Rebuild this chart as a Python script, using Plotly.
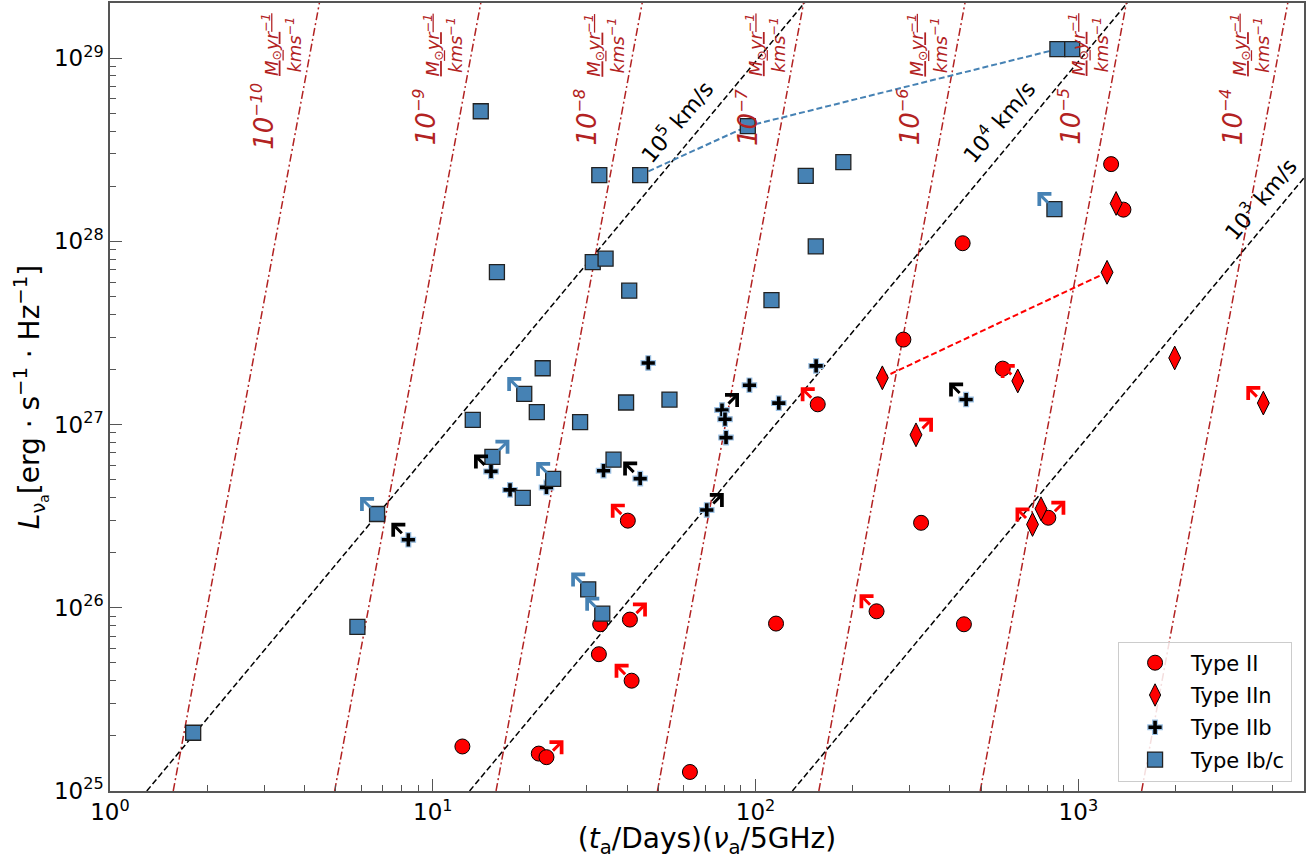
import numpy as np
import plotly.graph_objects as go

# ---------------- data ----------------
# Type II (circles)
ii_x = [155.8, 40.2, 1263, 1379, 438, 287, 583, 325.6, 807, 40.8, 33.0, 32.7, 41.3,
        12.35, 21.3, 22.5, 62.6, 115.7, 237, 442]
ii_y = [1.29e27, 2.99e26, 2.64e28, 1.49e28, 9.77e27, 2.91e27, 2.02e27, 2.91e26, 3.10e26,
        8.62e25, 8.13e25, 5.58e25, 4.0e25, 1.75e25, 1.60e25, 1.53e25, 1.27e25, 8.20e25,
        9.57e25, 8.13e25]
ii_lim = [-1, -1, 0, 0, 0, 0, 0, 0, 1, 1, 0, 0, -1, 0, 0, 1, 0, 0, -1, 0]

# Type IIn (diamonds)
iin_x = [1309, 1227, 247, 649, 1988, 3741, 314, 766, 721]
iin_y = [1.61e28, 6.78e27, 1.80e27, 1.73e27, 2.31e27, 1.31e27, 8.79e26, 3.47e26, 2.85e26]
iin_lim = [0, 0, 0, -1, 0, -1, 1, 0, -1]

# Type IIb (plus)
iib_x = [8.40, 46.5, 95.7, 154, 118, 78.7, 80.4, 81.0, 15.15, 17.35, 22.5, 33.8, 43.9, 70.6, 449]
iib_y = [2.35e26, 2.17e27, 1.64e27, 2.09e27, 1.31e27, 1.20e27, 1.07e27, 8.49e26, 5.55e26,
         4.40e26, 4.54e26, 5.60e26, 5.07e26, 3.42e26, 1.37e27]
iib_lim = [-1, 0, 0, 0, 0, 1, 0, 0, -1, 0, 0, 0, -1, 1, -1]

# Type Ib/c (squares)
ibc_x = [1.81, 5.84, 6.72, 14.08, 15.8, 31.3, 34.3, 32.8, 43.9, 94.6, 143, 187, 153.6, 112,
         40.6, 861, 957, 843, 21.9, 19.2, 21.0, 13.3, 28.6, 39.7, 54.1, 15.3, 36.3, 23.6,
         19.0, 30.3, 33.5]
ibc_y = [2.08e25, 7.86e25, 3.25e26, 5.13e28, 6.80e27, 7.71e27, 8.04e27, 2.30e28, 2.30e28,
         4.26e28, 2.28e28, 2.71e28, 9.38e27, 4.78e27, 5.38e27, 1.12e29, 1.12e29, 1.50e28,
         2.03e27, 1.47e27, 1.17e27, 1.06e27, 1.03e27, 1.32e27, 1.37e27, 6.67e26, 6.43e26,
         5.05e26, 3.98e26, 1.26e26, 9.29e25]
ibc_lim = [0, 0, -1, 0, 0, 0, 0, 0, 0, 0, 0, 0, 0, 0, 0, 0, 0, -1, 0, -1, 0, 0, 0, 0, 0,
           1, 0, -1, 0, -1, -1]

# connected tracks
ibc_track_x = [43.9, 94.6, 861]
ibc_track_y = [2.30e28, 4.26e28, 1.12e29]
iin_track_x = [247, 1227]
iin_track_y = [1.80e27, 6.78e27]

# model lines
vel_list = [1e5, 1e4, 1e3]            # km/s
vel_labels = ["10<sup>5</sup> km/s", "10<sup>4</sup> km/s", "10<sup>3</sup> km/s"]
vel_label_pos = [(56.7, 4.11e28), (564, 4.11e28), (3656, 1.55e28)]
x_v5 = 1.30        # x where v=1e5 km/s reaches L=1e25
mdot_list = [1e-10, 1e-9, 1e-8, 1e-7, 1e-6, 1e-5, 1e-4]
mdot_exp = [-10, -9, -8, -7, -6, -5, -4]
x_m10 = 1.57       # x where Mdot=1e-10 reaches L=1e25

x_ticks = [1, 10, 100, 1000]
x_ticktext = ["10<sup>0</sup>", "10<sup>1</sup>", "10<sup>2</sup>", "10<sup>3</sup>"]
y_ticks = [1e25, 1e26, 1e27, 1e28, 1e29]
y_ticktext = ["10<sup>25</sup>", "10<sup>26</sup>", "10<sup>27</sup>", "10<sup>28</sup>", "10<sup>29</sup>"]

XMAX = 5000
YMAX = 2e29

RED = "#ff0000"
BLUE = "#4682b4"
FIRE = "#b22222"
FONT = "DejaVu Sans"

fig = go.Figure()

# mass-loss lines
for m in mdot_list:
    xm = x_m10 * np.sqrt(m / 1e-10)
    xs = np.logspace(np.log10(xm), np.log10(xm * 3.5), 50)
    ls = 1e25 * (xs / xm) ** 9.5
    fig.add_trace(go.Scatter(x=xs, y=ls, mode="lines", showlegend=False, hoverinfo="skip",
                             line=dict(color=FIRE, width=1.5, dash="8px,3px,2px,3px")))

# velocity lines
for v in vel_list:
    xv = x_v5 * 1e5 / v
    xs = np.logspace(np.log10(xv), np.log10(XMAX * 1.1), 100)
    ls = 1e25 * (xs / xv) ** (19 / 9)
    fig.add_trace(go.Scatter(x=xs, y=ls, mode="lines", showlegend=False, hoverinfo="skip",
                             line=dict(color="black", width=1.5, dash="6px,3px")))

# tracks
fig.add_trace(go.Scatter(x=ibc_track_x, y=ibc_track_y, mode="lines", showlegend=False,
                         line=dict(color=BLUE, width=2, dash="6px,3px")))
fig.add_trace(go.Scatter(x=iin_track_x, y=iin_track_y, mode="lines", showlegend=False,
                         line=dict(color=RED, width=2, dash="6px,3px")))

# markers
fig.add_trace(go.Scatter(x=ii_x, y=ii_y, mode="markers", name="Type II", legendgroup="a",
                         marker=dict(symbol="circle", size=15, color=RED,
                                     line=dict(color="black", width=1))))
fig.add_trace(go.Scatter(x=iin_x, y=iin_y, mode="markers", name="Type IIn", legendgroup="b",
                         marker=dict(symbol="diamond-tall", size=17, color=RED,
                                     line=dict(color="black", width=1))))
fig.add_trace(go.Scatter(x=iib_x, y=iib_y, mode="markers", name="Type IIb", legendgroup="c",
                         marker=dict(symbol="cross", size=12, color="black",
                                     line=dict(color="#9ec3e6", width=1.2))))
fig.add_trace(go.Scatter(x=ibc_x, y=ibc_y, mode="markers", name="Type Ib/c", legendgroup="d",
                         marker=dict(symbol="square", size=15, color=BLUE,
                                     line=dict(color="#222222", width=1.3))))

annotations = []

# limit arrows
def add_arrows(xs, ys, lims, color):
    for x, y, s in zip(xs, ys, lims):
        if s == 0:
            continue
        annotations.append(dict(
            x=np.log10(x), y=np.log10(y), xref="x", yref="y", text="\u00a0",
            font=dict(size=1, color=color), borderpad=0,
            showarrow=True, arrowhead=4, arrowsize=1.1, arrowwidth=3, arrowcolor=color,
            xshift=s * 17, yshift=17, ax=-s * 11, ay=11, axref="pixel", ayref="pixel"))

add_arrows(ii_x, ii_y, ii_lim, RED)
add_arrows(iin_x, iin_y, iin_lim, RED)
add_arrows(iib_x, iib_y, iib_lim, "black")
add_arrows(ibc_x, ibc_y, ibc_lim, BLUE)

# velocity labels
for txt, (lx, ly) in zip(vel_labels, vel_label_pos):
    annotations.append(dict(x=np.log10(lx), y=np.log10(ly), xref="x", yref="y", text=txt,
                            showarrow=False, textangle=-50, xanchor="center", yanchor="middle",
                            yshift=8,
                            font=dict(family=FONT, size=22, color="black")))

# mass-loss labels
for m, e in zip(mdot_list, mdot_exp):
    xm = x_m10 * np.sqrt(m / 1e-10)
    lx = np.log10(xm * 1.898)
    annotations.append(dict(x=lx, y=0.8557, xref="x", yref="paper",
                            xanchor="center", yanchor="middle",
                            text="<i>10<sup><span style='font-size:16px'>\u2212%d</span></sup></i>" % abs(e),
                            showarrow=False, textangle=-90,
                            font=dict(family=FONT, size=26, color=FIRE)))
    annotations.append(dict(x=lx, y=0.9468, xref="x", yref="paper", xshift=19,
                            xanchor="center", yanchor="middle",
                            text="<u><i>M<sub>\u2299</sub>yr<sup>\u22121</sup></i></u><br><i>kms<sup>\u22121</sup></i>",
                            showarrow=False, textangle=-90,
                            font=dict(family=FONT, size=18, color=FIRE)))

axis_common = dict(
    showline=True, mirror=True, linecolor="#555555", linewidth=1.5,
    ticks="inside", ticklen=12, tickwidth=1.2, tickcolor="#555555",
    showgrid=False, zeroline=False,
    tickfont=dict(family=FONT, size=23, color="black"),
)

x_minor = [m * d for d in [1, 10, 100, 1000] for m in range(2, 10) if m * d <= XMAX]
y_minor = [m * d for d in [1e25, 1e26, 1e27, 1e28] for m in range(2, 10)] + [2e29]

fig.update_xaxes(type="log", range=[0, np.log10(XMAX)], tickmode="array",
                 tickvals=x_ticks, ticktext=x_ticktext,
                 minor=dict(tickmode="array", tickvals=x_minor, ticks="inside", ticklen=6,
                            tickwidth=1, tickcolor="#555555", showgrid=False),
                 title=dict(text="(<i>t</i><sub>a</sub>/Days)(<i>\u03bd</i><sub>a</sub>/5GHz)",
                            font=dict(family=FONT, size=28, color="black"), standoff=9),
                 **axis_common)
fig.update_yaxes(type="log", range=[25, np.log10(YMAX)], tickmode="array",
                 tickvals=y_ticks, ticktext=y_ticktext,
                 minor=dict(tickmode="array", tickvals=y_minor, ticks="inside", ticklen=6,
                            tickwidth=1, tickcolor="#555555", showgrid=False),
                 title=dict(text="<i>L</i><sub>\u03bd<sub>a</sub></sub>[erg \u00b7 s<sup>\u22121</sup> \u00b7 Hz<sup>\u22121</sup>]",
                            font=dict(family=FONT, size=28, color="black"), standoff=6),
                 **axis_common)

fig.update_layout(
    width=1312, height=859,
    margin=dict(l=110, r=8, t=1, b=68),
    plot_bgcolor="white", paper_bgcolor="white",
    font=dict(family=FONT, color="black"),
    annotations=annotations,
    legend=dict(x=0.99, y=0.012, xanchor="right", yanchor="bottom",
                bgcolor="rgba(255,255,255,0.85)", bordercolor="#cccccc", borderwidth=1,
                font=dict(family=FONT, size=21, color="black"),
                itemwidth=62,
                traceorder="grouped", tracegroupgap=2),
)

fig.write_html("out.html")
